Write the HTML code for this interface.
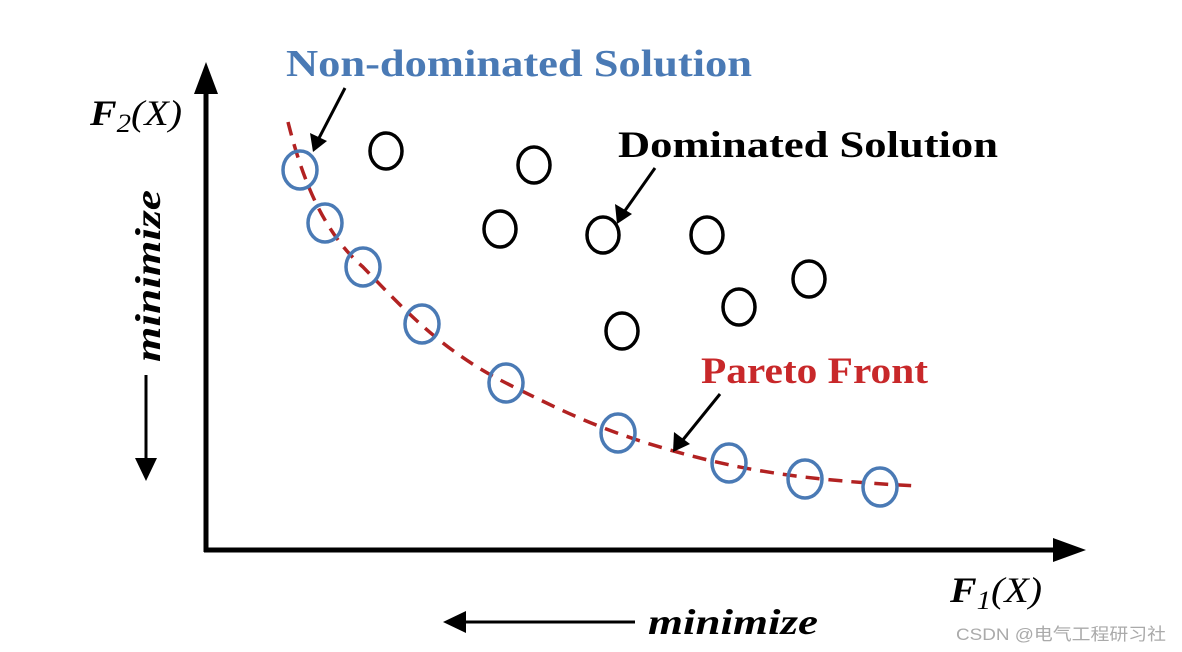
<!DOCTYPE html>
<html><head><meta charset="utf-8"><style>html,body{margin:0;padding:0;background:#fff;}svg{display:block}</style></head>
<body>
<svg width="1182" height="652" viewBox="0 0 1182 652" xmlns="http://www.w3.org/2000/svg">
<!-- axes -->
<line x1="206" y1="552" x2="206" y2="92" stroke="#000" stroke-width="5"/>
<polygon points="206,62 194,94 218,94" fill="#000"/>
<line x1="204" y1="550" x2="1055" y2="550" stroke="#000" stroke-width="5"/>
<polygon points="1086,550 1053,538 1053,562" fill="#000"/>
<!-- pareto curve -->
<path d="M288,122 C300,170 320,230 363,267 C400,305 440,350 506,383 C560,410 600,430 670,450 C740,470 800,480 918,486" fill="none" stroke="#b22222" stroke-width="3.5" stroke-dasharray="14,9"/>
<!-- blue circles -->
<g fill="none" stroke="#4a7ab5" stroke-width="3.5">
<ellipse cx="300" cy="170" rx="17" ry="19"/>
<ellipse cx="325" cy="223" rx="17" ry="19"/>
<ellipse cx="363" cy="267" rx="17" ry="19"/>
<ellipse cx="422" cy="324" rx="17" ry="19"/>
<ellipse cx="506" cy="383" rx="17" ry="19"/>
<ellipse cx="618" cy="433" rx="17" ry="19"/>
<ellipse cx="729" cy="463" rx="17" ry="19"/>
<ellipse cx="805" cy="479" rx="17" ry="19"/>
<ellipse cx="880" cy="487" rx="17" ry="19"/>
</g>
<g fill="none" stroke="#000" stroke-width="3.5">
<ellipse cx="386" cy="151" rx="16" ry="18"/>
<ellipse cx="534" cy="165" rx="16" ry="18"/>
<ellipse cx="500" cy="229" rx="16" ry="18"/>
<ellipse cx="603" cy="235" rx="16" ry="18"/>
<ellipse cx="707" cy="235" rx="16" ry="18"/>
<ellipse cx="809" cy="279" rx="16" ry="18"/>
<ellipse cx="739" cy="307" rx="16" ry="18"/>
<ellipse cx="622" cy="331" rx="16" ry="18"/>
</g>
<!-- pointer arrows -->
<g stroke="#000" stroke-width="3">
<line x1="345" y1="88" x2="318" y2="140"/>
<line x1="655" y1="168" x2="624" y2="212"/>
<line x1="720" y1="394" x2="682" y2="441"/>
</g>
<polygon points="313,152 310,133 327,141" fill="#000"/>
<polygon points="617,224 615,204 632,214" fill="#000"/>
<polygon points="673,452 674,432 690,444" fill="#000"/>
<!-- minimize arrows -->
<line x1="146" y1="375" x2="146" y2="462" stroke="#000" stroke-width="3"/>
<polygon points="146,481 135,458 157,458" fill="#000"/>
<line x1="635" y1="622" x2="462" y2="622" stroke="#000" stroke-width="3"/>
<polygon points="443,622 466,611 466,633" fill="#000"/>
<!-- text -->
<g font-family="'Liberation Serif', serif">
<text x="286" y="76" font-size="38" font-weight="bold" fill="#4a7ab5" textLength="466" lengthAdjust="spacingAndGlyphs">Non-dominated Solution</text>
<text x="618" y="157" font-size="37" font-weight="bold" fill="#000" textLength="380" lengthAdjust="spacingAndGlyphs">Dominated Solution</text>
<text x="701" y="383" font-size="37" font-weight="bold" fill="#c8282a" textLength="227" lengthAdjust="spacingAndGlyphs">Pareto Front</text>
<text x="90" y="125" font-size="36" font-style="italic" fill="#000" textLength="92" lengthAdjust="spacingAndGlyphs"><tspan font-weight="bold">F</tspan><tspan font-size="26" dy="7">2</tspan><tspan dy="-7">(X)</tspan></text>
<text x="950" y="602" font-size="36" font-style="italic" fill="#000" textLength="92" lengthAdjust="spacingAndGlyphs"><tspan font-weight="bold">F</tspan><tspan font-size="26" dy="7">1</tspan><tspan dy="-7">(X)</tspan></text>
<text x="648" y="634" font-size="36" font-style="italic" font-weight="bold" fill="#000" textLength="170" lengthAdjust="spacingAndGlyphs">minimize</text>
<text transform="translate(160,362) rotate(-90)" font-size="36" font-style="italic" font-weight="bold" fill="#000" textLength="172" lengthAdjust="spacingAndGlyphs">minimize</text>
</g>
<text x="956" y="640" font-family="'Liberation Sans','Noto Sans CJK SC',sans-serif" font-size="17" fill="#aaa" textLength="210" lengthAdjust="spacingAndGlyphs">CSDN @电气工程研习社</text>
</svg>
</body></html>
